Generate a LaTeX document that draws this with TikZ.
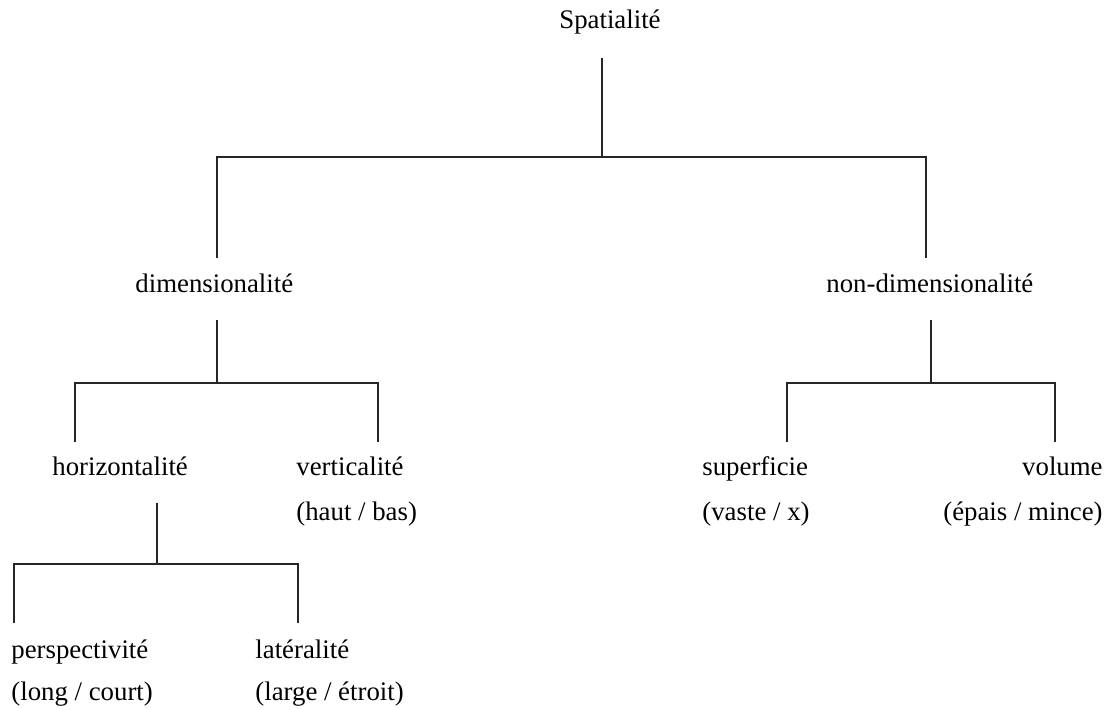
\documentclass[tikz,border=0pt]{standalone}
\usepackage{fontspec}
\setmainfont{Liberation Serif}
\begin{document}
\begin{tikzpicture}[x=0.5pt,y=-0.5pt,
  lbl/.style={inner sep=0pt,font=\fontsize{13.4}{16}\selectfont,text=black},
  conn/.style={draw=black!85,line width=0.6pt}]
\useasboundingbox[fill=white] (0,0) rectangle (1113,710);
% texts
\node[lbl,anchor=base] (spat) at (610,29) {Spatialité};
\node[lbl,anchor=base west] (dim) at (135,293) {dimensionalité};
\node[lbl,anchor=base west] (ndim) at (826,293) {non-dimensionalité};
\node[lbl,anchor=base west] (hor) at (52,476) {horizontalité};
\node[lbl,anchor=base west] (ver) at (296,476) {verticalité};
\node[lbl,anchor=base west] (verb) at (296,521) {(haut / bas)};
\node[lbl,anchor=base west] (sup) at (702,476) {superficie};
\node[lbl,anchor=base west] (supb) at (702,521) {(vaste / x)};
\node[lbl,anchor=base east] (vol) at (1103,476) {volume};
\node[lbl,anchor=base east] (volb) at (1103,521) {(épais / mince)};
\node[lbl,anchor=base west] (per) at (11,658) {perspectivité};
\node[lbl,anchor=base west] (perb) at (11,700) {(long / court)};
\node[lbl,anchor=base west] (lat) at (255,658) {latéralité};
\node[lbl,anchor=base west] (latb) at (255,700) {(large / étroit)};
% junction coordinates
\coordinate (s0) at (602,58);
\coordinate (s1) at (602,157);
\coordinate (sL) at (217,157);
\coordinate (sR) at (926,157);
\coordinate (dTop) at (217,258);
\coordinate (nTop) at (926,258);
\coordinate (d0) at (217,320);
\coordinate (d1) at (217,383);
\coordinate (dL) at (75,383);
\coordinate (dR) at (378,383);
\coordinate (hTop) at (75,442);
\coordinate (vTop) at (378,442);
\coordinate (n0) at (931,320);
\coordinate (n1) at (931,383);
\coordinate (nL) at (787,383);
\coordinate (nR) at (1055,383);
\coordinate (suTop) at (787,442);
\coordinate (voTop) at (1055,442);
\coordinate (h0) at (157,503);
\coordinate (h1) at (157,564);
\coordinate (hL) at (14,564);
\coordinate (hR) at (298,564);
\coordinate (pTop) at (14,623);
\coordinate (lTop) at (298,623);
% connectors
\draw[conn] (s0) -- (s1);
\draw[conn] (dTop) -- (sL) -- (sR) -- (nTop);
\draw[conn] (d0) -- (d1);
\draw[conn] (hTop) -- (dL) -- (dR) -- (vTop);
\draw[conn] (n0) -- (n1);
\draw[conn] (suTop) -- (nL) -- (nR) -- (voTop);
\draw[conn] (h0) -- (h1);
\draw[conn] (pTop) -- (hL) -- (hR) -- (lTop);
\end{tikzpicture}
\end{document}
